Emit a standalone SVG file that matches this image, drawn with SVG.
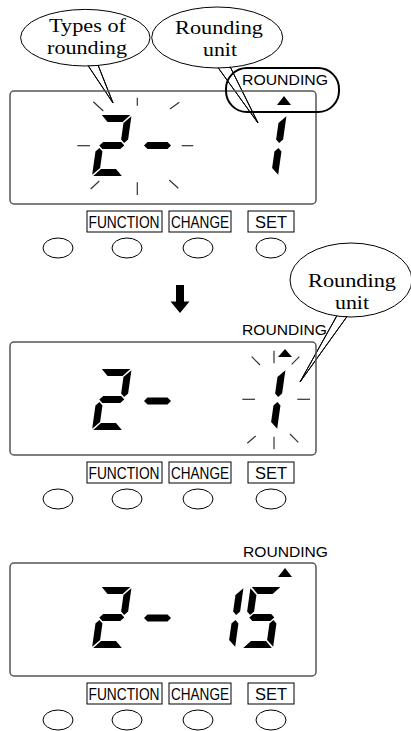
<svg xmlns="http://www.w3.org/2000/svg" width="411" height="731" viewBox="0 0 411 731">
<style>
.lcd{fill:none;stroke:#555;stroke-width:1.5}
.ray{stroke:#333;stroke-width:1.2;fill:none}
.lbl{fill:#fff;stroke:#000;stroke-width:1}
.btn{fill:#fff;stroke:#000;stroke-width:1}
.lt{font-family:"Liberation Sans",Arial,sans-serif;font-size:16.5px;fill:#000;text-anchor:middle}
.rt{font-family:"Liberation Sans",Arial,sans-serif;font-size:15.5px;fill:#000}
.bt{font-family:"Liberation Serif","Times New Roman",serif;font-size:19.5px;fill:#000;text-anchor:middle}
.bub{fill:#fff;stroke:#000;stroke-width:1}
.seg{fill:#000}
</style>
<defs>
<polygon id="sa" points="1.2,-61 29.8,-61 23,-54 8,-54"/>
<polygon id="sb" points="31,-59.8 31,-36.5 27.5,-33 24,-36.5 24,-53"/>
<polygon id="sc" points="31,-1.2 31,-24.5 27.5,-28 24,-24.5 24,-8"/>
<polygon id="sd" points="1.2,0 29.8,0 23,-7 8,-7"/>
<polygon id="se" points="0,-1.2 0,-24.5 3.5,-28 7,-24.5 7,-8"/>
<polygon id="sf" points="0,-59.8 0,-36.5 3.5,-33 7,-36.5 7,-53"/>
<polygon id="sg" points="3,-30.5 6.5,-34 24.5,-34 28,-30.5 24.5,-27 6.5,-27"/>
<g id="d2" class="seg"><use href="#sa"/><use href="#sb"/><use href="#sg"/><use href="#se"/><use href="#sd"/></g>
<g id="d1" class="seg"><use href="#sb"/><use href="#sc"/></g>
<g id="d5" class="seg"><use href="#sa"/><use href="#sf"/><use href="#sg"/><use href="#sc"/><use href="#sd"/></g>
<polygon id="dash" points="144,0 147.5,-3.5 167.5,-3.5 171,0 167.5,3.5 147.5,3.5"/>
<g id="buttons">
<rect class="lbl" x="87" y="7" width="75" height="21"/>
<rect class="lbl" x="169" y="7" width="62" height="21"/>
<rect class="lbl" x="248" y="7" width="46" height="21"/>
<text class="lt" x="124" y="23.5" textLength="71" lengthAdjust="spacingAndGlyphs">FUNCTION</text>
<text class="lt" x="200" y="23.5" textLength="58" lengthAdjust="spacingAndGlyphs">CHANGE</text>
<text class="lt" x="271" y="23.5" textLength="32" lengthAdjust="spacingAndGlyphs">SET</text>
<ellipse class="btn" cx="58" cy="44" rx="15" ry="10"/>
<ellipse class="btn" cx="127" cy="44" rx="15" ry="10"/>
<ellipse class="btn" cx="198" cy="44" rx="15" ry="10"/>
<ellipse class="btn" cx="271" cy="44" rx="15" ry="10"/>
</g>
</defs>

<g id="connectors">
<path id="tail1" class="bub" d="M88,65.5 L113,103 L98,65 Z"/>
<path id="tail2" class="bub" d="M218,67.5 L258,123 L230,66.5 Z"/>
<path id="tail3" class="bub" d="M337,315.5 L300,382 L347,316.5 Z"/>
</g>

<g id="bubble-types">
<ellipse class="bub" cx="85.3" cy="37.7" rx="64.7" ry="28.3"/>
<text class="bt" x="87.5" y="32" textLength="77" lengthAdjust="spacingAndGlyphs">Types of</text>
<text class="bt" x="87" y="53.5" textLength="80" lengthAdjust="spacingAndGlyphs">rounding</text>
</g>
<g id="bubble-unit1">
<ellipse class="bub" cx="217.2" cy="37.5" rx="65.5" ry="30.5"/>
<text class="bt" x="219" y="34" textLength="88" lengthAdjust="spacingAndGlyphs">Rounding</text>
<text class="bt" x="220" y="55.5" textLength="34" lengthAdjust="spacingAndGlyphs">unit</text>
</g>
<g id="bubble-unit2">
<ellipse class="bub" cx="351" cy="280" rx="61" ry="37"/>
<text class="bt" x="352" y="287" textLength="88" lengthAdjust="spacingAndGlyphs">Rounding</text>
<text class="bt" x="352" y="308.5" textLength="34" lengthAdjust="spacingAndGlyphs">unit</text>
</g>
<g id="tail-lines" fill="none" stroke="#000" stroke-width="1">
<path d="M88,65.5 L113,103 L98,65"/>
<path d="M218,67.5 L258,123 L230,66.5"/>
<path d="M337,315.5 L300,382 L347,316.5"/>
</g>

<g id="panel1">
<rect class="lcd" x="10" y="91" width="306" height="113" rx="4"/>
<rect x="226" y="68" width="113" height="44" rx="21" fill="none" stroke="#000" stroke-width="2"/>
<text class="rt" x="242" y="85" textLength="86" lengthAdjust="spacingAndGlyphs">ROUNDING</text>
<polygon points="277,105 291,105 284,96" fill="#000"/>
<use href="#d2" transform="translate(92,176) skewX(-8)"/>
<use href="#dash" transform="translate(0,145.5)"/>
<use href="#d1" transform="translate(247,176) skewX(-8)"/>
<g class="ray">
<line x1="93.3" y1="101.7" x2="103.3" y2="111"/>
<line x1="137.3" y1="97.7" x2="137.3" y2="105.7"/>
<line x1="170" y1="109" x2="179.3" y2="102.3"/>
<line x1="77.3" y1="145.7" x2="90" y2="145.7"/>
<line x1="181.7" y1="145.7" x2="193.3" y2="145.7"/>
<line x1="90.7" y1="189" x2="99.3" y2="181"/>
<line x1="137.3" y1="182.3" x2="137.3" y2="195"/>
<line x1="169.3" y1="180" x2="178.3" y2="188.3"/>
</g>
<use href="#buttons" transform="translate(0,204)"/>
</g>

<g id="arrow">
<polygon points="176,285 184,285 184,301.5 189.5,301.5 180,313 170.5,301.5 176,301.5" fill="#000"/>
</g>

<g id="panel2">
<rect class="lcd" x="10" y="342" width="306" height="113" rx="4"/>
<text class="rt" x="242" y="335" textLength="85" lengthAdjust="spacingAndGlyphs">ROUNDING</text>
<polygon points="278,357 292,357 285,349" fill="#000"/>
<use href="#d2" transform="translate(92,430) skewX(-8)"/>
<use href="#dash" transform="translate(0,401)"/>
<use href="#d1" transform="translate(246,430) skewX(-8)"/>
<g class="ray">
<line x1="251.7" y1="356.7" x2="260" y2="365"/>
<line x1="274" y1="350.7" x2="274" y2="363.3"/>
<line x1="291.7" y1="364.3" x2="299.3" y2="356.7"/>
<line x1="242.3" y1="399.3" x2="255" y2="399.3"/>
<line x1="297.3" y1="399.3" x2="310" y2="399.3"/>
<line x1="247.3" y1="443.3" x2="255.7" y2="436"/>
<line x1="274" y1="436.7" x2="274" y2="449.3"/>
<line x1="290" y1="434" x2="298.3" y2="442.3"/>
</g>
<use href="#buttons" transform="translate(0,455)"/>
</g>

<g id="panel3">
<rect class="lcd" x="10" y="563" width="306" height="113" rx="4"/>
<text class="rt" x="243" y="557" textLength="85" lengthAdjust="spacingAndGlyphs">ROUNDING</text>
<polygon points="278,577 292,577 285,568" fill="#000"/>
<use href="#d2" transform="translate(92,648) skewX(-8)"/>
<use href="#dash" transform="translate(0,618)"/>
<use href="#d1" transform="translate(204,648) skewX(-8)"/>
<use href="#d5" transform="translate(242,648) skewX(-8)"/>
<use href="#buttons" transform="translate(0,676)"/>
</g>
</svg>
